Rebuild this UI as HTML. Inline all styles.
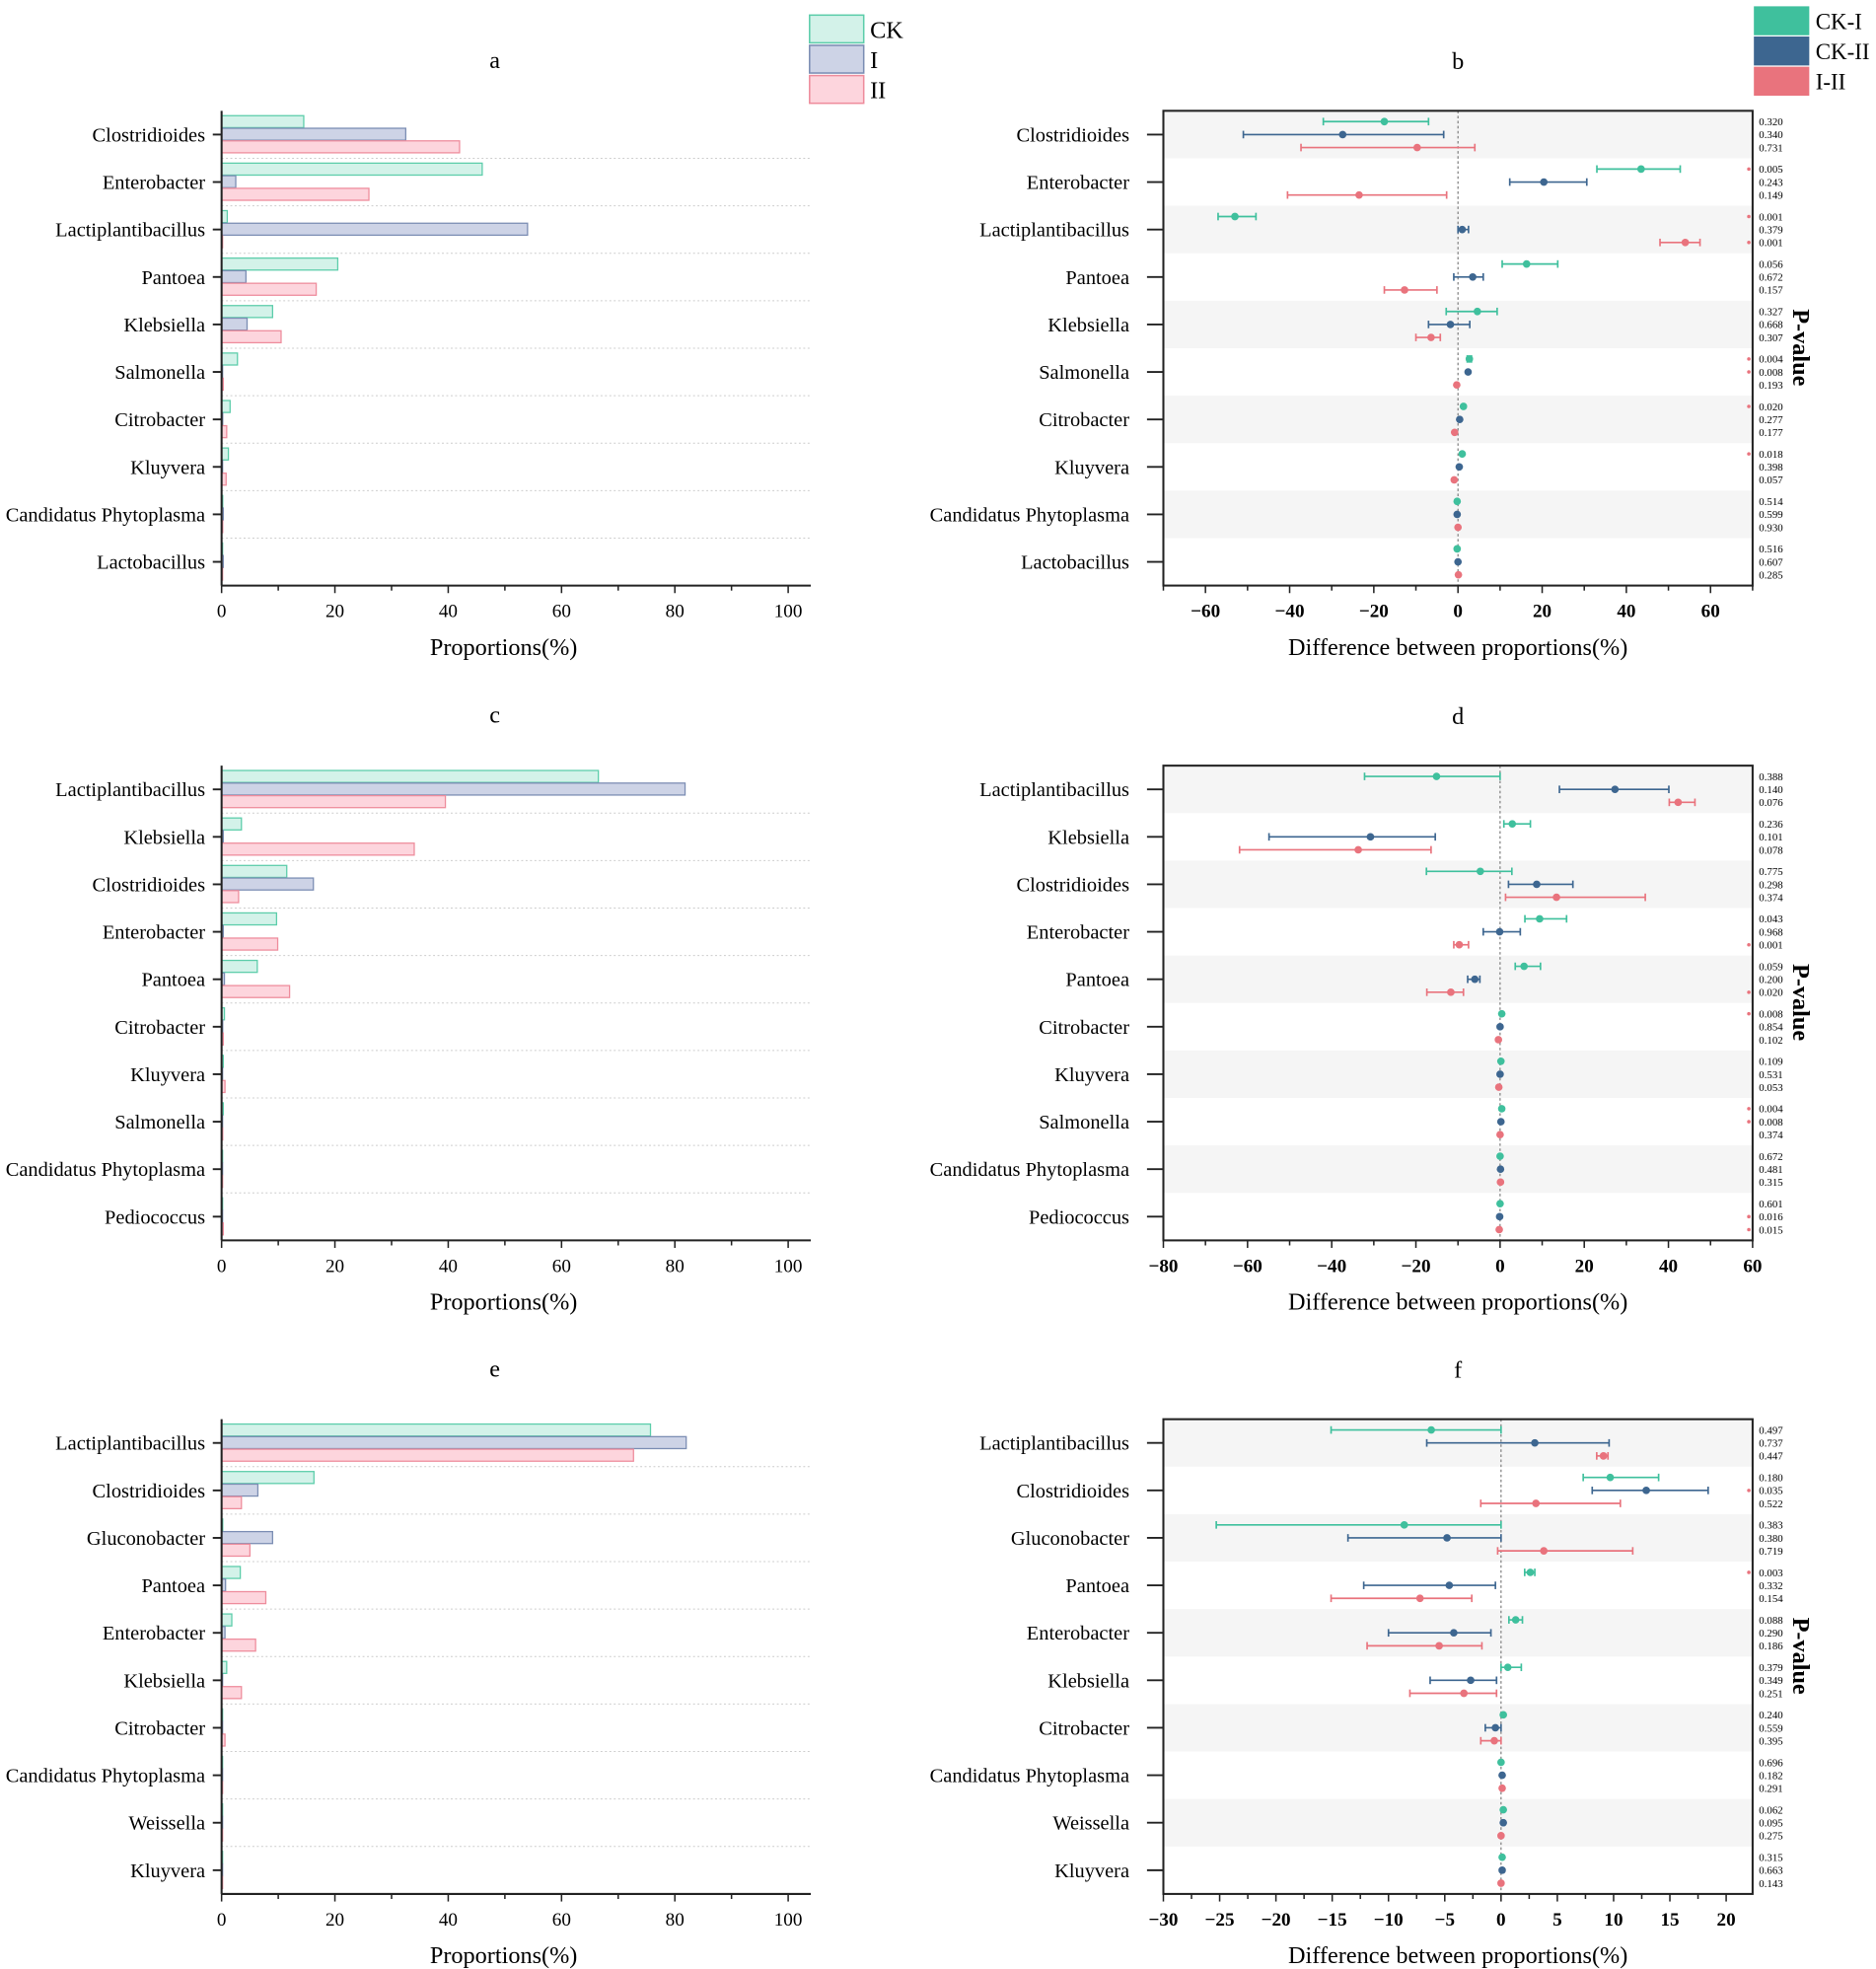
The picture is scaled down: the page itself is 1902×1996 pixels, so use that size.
<!DOCTYPE html>
<html><head><meta charset="utf-8"><style>
html,body{margin:0;padding:0;background:#fff}
svg{display:block;font-family:"Liberation Serif",serif}
</style></head><body>
<svg id="fig" width="1902" height="1996" viewBox="0 0 1490 1563.6" preserveAspectRatio="none" xmlns="http://www.w3.org/2000/svg"></svg>
<script>
// ---------- DATA ----------
const groupNames = ["CK","I","II"];
const diffNames = ["CK-I","CK-II","I-II"];

const catsA = ["Clostridioides","Enterobacter","Lactiplantibacillus","Pantoea","Klebsiella","Salmonella","Citrobacter","Kluyvera","Candidatus Phytoplasma","Lactobacillus"];
const ckA = [14.5,46,1,20.5,9,2.8,1.5,1.2,0.2,0.1];
const iA  = [32.5,2.5,54,4.3,4.5,0.1,0.2,0.1,0.3,0.3];
const iiA = [42,26,0,16.7,10.5,0.3,0.9,0.8,0.2,0.1];

const catsC = ["Lactiplantibacillus","Klebsiella","Clostridioides","Enterobacter","Pantoea","Citrobacter","Kluyvera","Salmonella","Candidatus Phytoplasma","Pediococcus"];
const ckC = [66.5,3.5,11.5,9.7,6.3,0.5,0.3,0.3,0.1,0.1];
const iC  = [81.8,0.3,16.2,0.3,0.5,0.2,0.1,0.1,0.1,0.1];
const iiC = [39.5,34,3,9.9,12,0.3,0.6,0.2,0.1,0.3];

const catsE = ["Lactiplantibacillus","Clostridioides","Gluconobacter","Pantoea","Enterobacter","Klebsiella","Citrobacter","Candidatus Phytoplasma","Weissella","Kluyvera"];
const ckE = [75.7,16.3,0.2,3.3,1.8,0.9,0.1,0.1,0.1,0.1];
const iE  = [82,6.4,9,0.7,0.6,0.1,0.1,0.1,0.1,0.1];
const iiE = [72.7,3.5,5,7.8,6,3.5,0.6,0.1,0.1,0.1];

const bMean1=[-17.5,43.5,-53,16.3,4.6,2.7,1.3,1,-0.2,-0.2];
const bLo1  =[-32,33,-57,10.5,-2.8,2.2,1.3,1,-0.2,-0.2];
const bHi1  =[-7,52.8,-48,23.7,9.3,3.2,1.3,1,-0.2,-0.2];
const bMean2=[-27.4,20.4,1,3.5,-1.8,2.4,0.4,0.3,-0.2,0];
const bLo2  =[-51,12.3,0,-1,-7,2.4,0.4,0.3,-0.2,0];
const bHi2  =[-3.4,30.6,2.5,6,2.8,2.4,0.4,0.3,-0.2,0];
const bMean3=[-9.7,-23.5,54,-12.7,-6.4,-0.3,-0.8,-0.9,0,0.1];
const bLo3  =[-37.3,-40.5,48,-17.5,-10,-0.3,-0.8,-0.9,0,0.1];
const bHi3  =[4,-2.7,57.5,-5,-4.2,-0.3,-0.8,-0.9,0,0.1];
const bP1=["0.320","0.005","0.001","0.056","0.327","0.004","0.020","0.018","0.514","0.516"];
const bP2=["0.340","0.243","0.379","0.672","0.668","0.008","0.277","0.398","0.599","0.607"];
const bP3=["0.731","0.149","0.001","0.157","0.307","0.193","0.177","0.057","0.930","0.285"];

const dMean1=[-15.1,2.9,-4.7,9.4,5.7,0.4,0.2,0.4,0,0];
const dLo1  =[-32.2,0.9,-17.5,5.9,3.6,0.4,0.2,0.4,0,0];
const dHi1  =[0,7.2,2.8,15.8,9.6,0.4,0.2,0.4,0,0];
const dMean2=[27.3,-30.8,8.7,-0.1,-6,0,0,0.2,0.1,-0.1];
const dLo2  =[14.1,-54.9,2,-4,-7.7,0,0,0.2,0.1,-0.1];
const dHi2  =[40.1,-15.4,17.3,4.8,-4.8,0,0,0.2,0.1,-0.1];
const dMean3=[42.3,-33.7,13.4,-9.7,-11.7,-0.4,-0.3,0,0.1,-0.2];
const dLo3  =[40.2,-61.9,1.3,-11,-17.4,-0.4,-0.3,0,0.1,-0.2];
const dHi3  =[46.3,-16.4,34.5,-7.5,-8.7,-0.4,-0.3,0,0.1,-0.2];
const dP1=["0.388","0.236","0.775","0.043","0.059","0.008","0.109","0.004","0.672","0.601"];
const dP2=["0.140","0.101","0.298","0.968","0.200","0.854","0.531","0.008","0.481","0.016"];
const dP3=["0.076","0.078","0.374","0.001","0.020","0.102","0.053","0.374","0.315","0.015"];

const fMean1=[-6.2,9.7,-8.6,2.6,1.3,0.6,0.2,0,0.2,0.1];
const fLo1  =[-15.1,7.3,-25.3,2.1,0.7,0,0.2,0,0.2,0.1];
const fHi1  =[0,14,0,3,1.9,1.8,0.2,0,0.2,0.1];
const fMean2=[3,12.9,-4.8,-4.6,-4.2,-2.7,-0.5,0.1,0.2,0.1];
const fLo2  =[-6.6,8.1,-13.6,-12.2,-10,-6.3,-1.4,0.1,0.2,0.1];
const fHi2  =[9.6,18.4,0,-0.5,-0.9,-0.4,0,0.1,0.2,0.1];
const fMean3=[9.1,3.1,3.8,-7.2,-5.5,-3.3,-0.6,0.1,0,0];
const fLo3  =[8.5,-1.8,-0.3,-15.1,-11.9,-8.1,-1.8,0.1,0,0];
const fHi3  =[9.5,10.6,11.7,-2.6,-1.7,-0.4,0,0.1,0,0];
const fP1=["0.497","0.180","0.383","0.003","0.088","0.379","0.240","0.696","0.062","0.315"];
const fP2=["0.737","0.035","0.380","0.332","0.290","0.349","0.559","0.182","0.095","0.663"];
const fP3=["0.447","0.522","0.719","0.154","0.186","0.251","0.395","0.291","0.275","0.143"];

const barTicks=[0,20,40,60,80,100];
const bTicks=[-60,-40,-20,0,20,40,60];
const dTicks=[-80,-60,-40,-20,0,20,40,60];
const fTicks=[-30,-25,-20,-15,-10,-5,0,5,10,15,20];

// ---------- DRAWING ----------
const NS="http://www.w3.org/2000/svg";
const svg=document.getElementById('fig');
function mk(tag,attrs,parent,text){const e=document.createElementNS(NS,tag);for(const k in attrs)e.setAttribute(k,attrs[k]);if(text!==undefined)e.textContent=text;(parent||svg).appendChild(e);return e;}
const ROW=37.7;
const barFill=["#d3f2e9","#cdd3e6","#fdd5dd"], barStroke=["#5ccdaa","#7b8db3","#ee8c9c"];
const dotCol=["#3fc09d","#3d6690","#e9737d"];

function barPanel(letter,top,cats,series,name){
  const g=mk('g',{});
  
  
  const L=176,R=644,B=top+10*ROW;
  const x=v=>L+v*4.5;
  const t=mk('text',{x:393,y:top-34,'font-size':19,'text-anchor':'middle'},g,letter);
  
  for(let i=1;i<10;i++) mk('line',{x1:L,x2:R,y1:top+i*ROW,y2:top+i*ROW,stroke:'#ccc','stroke-dasharray':'1.5,2','stroke-width':0.8},g);
  cats.forEach((c,i)=>{
    const cy=top+(i+0.5)*ROW;
    const lb=mk('text',{x:163,y:cy+5.5,'font-size':16,'text-anchor':'end'},g,c);
    
    mk('line',{x1:169,x2:L,y1:cy,y2:cy,stroke:'#222','stroke-width':1.5},g);
    series.forEach((s,k)=>{
      const r=mk('rect',{x:L,y:cy-15+k*10,width:Math.max(0.8,x(s[i])-L),height:9.5,fill:barFill[k],stroke:barStroke[k],'stroke-width':1},g);
      
      
    });
  });
  mk('line',{x1:L,x2:L,y1:top,y2:B,stroke:'#222','stroke-width':1.6},g);
  mk('line',{x1:L,x2:R,y1:B,y2:B,stroke:'#222','stroke-width':1.6},g);
  for(let v=0;v<=104;v+=10){mk('line',{x1:x(v),x2:x(v),y1:B,y2:B+(v%20==0?6:4),stroke:'#222','stroke-width':1.2},g);}
  barTicks.forEach(v=>{const tl=mk('text',{x:x(v),y:B+25,'font-size':15,'text-anchor':'middle'},g,String(v));});
  const xt=mk('text',{x:400,y:B+55,'font-size':19,'text-anchor':'middle'},g,'Proportions(%)');
  
}

function diffPanel(letter,top,cats,dmin,dmax,ticks,minorStep,M,LO,HI,P,name){
  const g=mk('g',{});
  
  
  const L=924,R=1392,B=top+10*ROW;
  const x=v=>L+(v-dmin)*(R-L)/(dmax-dmin);
  const t=mk('text',{x:1158,y:top-33,'font-size':19,'text-anchor':'middle'},g,letter);
  
  for(let i=0;i<10;i+=2) mk('rect',{x:L,y:top+i*ROW,width:R-L,height:ROW,fill:'#f5f5f5'},g);
  mk('line',{x1:x(0),x2:x(0),y1:top,y2:B,stroke:'#777','stroke-dasharray':'2,2','stroke-width':0.9},g);
  cats.forEach((c,i)=>{
    const cy=top+(i+0.5)*ROW;
    const lb=mk('text',{x:897,y:cy+5.5,'font-size':16,'text-anchor':'end'},g,c);
    
    mk('line',{x1:911,x2:L,y1:cy,y2:cy,stroke:'#222','stroke-width':1.5},g);
    for(let k=0;k<3;k++){
      const y=cy+(k-1)*10.3, col=dotCol[k];
      const lo=x(LO[k][i]),hi=x(HI[k][i]);
      if(hi-lo>1){
        mk('line',{x1:lo,x2:hi,y1:y,y2:y,stroke:col,'stroke-width':1.3},g);
        mk('line',{x1:lo,x2:lo,y1:y-3,y2:y+3,stroke:col,'stroke-width':1.3},g);
        mk('line',{x1:hi,x2:hi,y1:y-3,y2:y+3,stroke:col,'stroke-width':1.3},g);
      }
      const d=mk('circle',{cx:x(M[k][i]),cy:y,r:3,fill:col},g);
      
      
      const pt=mk('text',{x:1397,y:y+3,'font-size':8.5},g,P[k][i]);
      
      if(parseFloat(P[k][i])<0.04) mk('circle',{cx:1389,cy:y,r:1.4,fill:'#e9737d'},g);
    }
  });
  mk('rect',{x:L,y:top,width:R-L,height:B-top,fill:'none',stroke:'#222','stroke-width':1.6},g);
  for(let v=Math.ceil(dmin/minorStep)*minorStep;v<=dmax+1e-9;v+=minorStep){
    const major=ticks.some(tk=>Math.abs(tk-v)<1e-9);
    mk('line',{x1:x(v),x2:x(v),y1:B,y2:B+(major?6:4),stroke:'#222','stroke-width':1.2},g);
  }
  ticks.forEach(v=>{const tl=mk('text',{x:x(v),y:B+25,'font-size':15,'font-weight':'bold','text-anchor':'middle'},g,v<0?'\u2212'+(-v):String(v));});
  const xt=mk('text',{x:1158,y:B+55,'font-size':19,'text-anchor':'middle'},g,'Difference between proportions(%)');
  
  const py=top+188;
  const pv=mk('text',{x:1424,y:py,'font-size':19,'font-weight':'bold','text-anchor':'middle',transform:'rotate(90 1424 '+py+')'},g,'P-value');
  
}

barPanel('a',88,catsA,[ckA,iA,iiA],'bar-chart-a');
barPanel('c',608,catsC,[ckC,iC,iiC],'bar-chart-c');
barPanel('e',1127,catsE,[ckE,iE,iiE],'bar-chart-e');
diffPanel('b',88,catsA,-70,70,bTicks,10,[bMean1,bMean2,bMean3],[bLo1,bLo2,bLo3],[bHi1,bHi2,bHi3],[bP1,bP2,bP3],'difference-chart-b');
diffPanel('d',608,catsC,-80,60,dTicks,10,[dMean1,dMean2,dMean3],[dLo1,dLo2,dLo3],[dHi1,dHi2,dHi3],[dP1,dP2,dP3],'difference-chart-d');
diffPanel('f',1127,catsE,-30,22.35,fTicks,2.5,[fMean1,fMean2,fMean3],[fLo1,fLo2,fLo3],[fHi1,fHi2,fHi3],[fP1,fP2,fP3],'difference-chart-f');

groupNames.forEach((n,k)=>{
  const r=mk('rect',{x:643,y:12+k*24,width:43,height:22,fill:barFill[k],stroke:barStroke[k],'stroke-width':1.2});
  
  const t=mk('text',{x:691,y:30+k*24,'font-size':19},svg,n);
  
});
diffNames.forEach((n,k)=>{
  const r=mk('rect',{x:1393,y:5+k*24,width:44,height:23,fill:dotCol[k]});
  
  const t=mk('text',{x:1442,y:23+k*24,'font-size':18},svg,n);
  
});
</script>
</body></html>
